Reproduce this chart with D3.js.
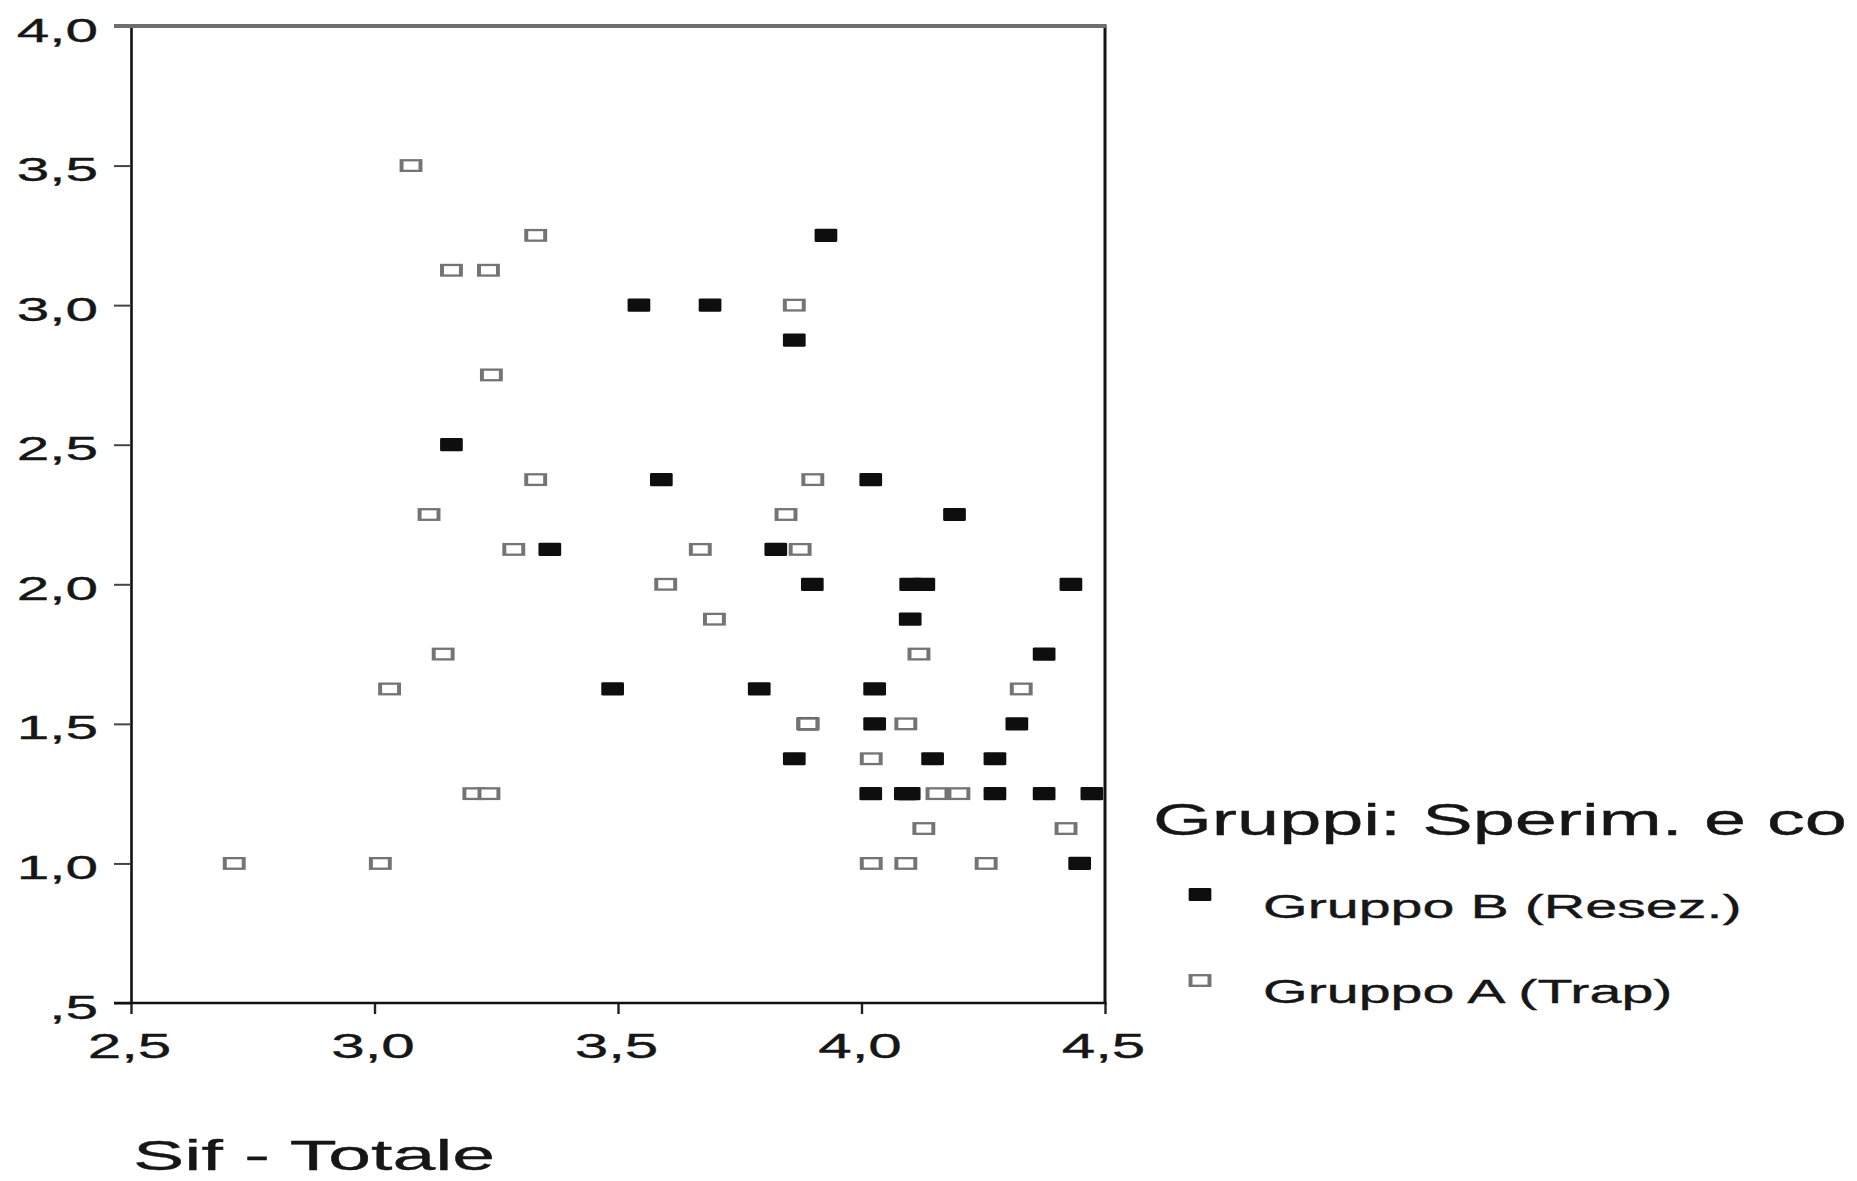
<!DOCTYPE html>
<html>
<head>
<meta charset="utf-8">
<script src="https://cdn.jsdelivr.net/npm/d3@7"></script>
<style>
  body { margin: 0; background: #fff; }
  svg { display: block; }
  text { font-family: "Liberation Sans", Arial, sans-serif; fill: #161616; stroke: #161616; stroke-width: 0.35px; }
</style>
</head>
<body>
<div id="chart"></div>
<script>
// Gruppo A (Trap) - open markers
const groupA_x = [3.075, 3.331, 3.158, 3.234, 3.862, 3.240, 3.331, 3.900, 3.112, 3.845,
                  3.286, 3.669, 3.874, 3.598, 3.698, 3.141, 4.118, 3.031, 4.328, 3.890,
                  4.091, 4.020, 3.204, 3.235, 4.155, 4.200, 4.128, 4.420, 2.712, 3.012,
                  4.020, 4.091, 4.256];
const groupA_y = [3.5, 3.25, 3.125, 3.125, 3.0, 2.75, 2.375, 2.375, 2.25, 2.25,
                  2.125, 2.125, 2.125, 2.0, 1.875, 1.75, 1.75, 1.625, 1.625, 1.5,
                  1.5, 1.375, 1.25, 1.25, 1.25, 1.25, 1.125, 1.125, 1.0, 1.0,
                  1.0, 1.0, 1.0];

// Gruppo B (Resez.) - filled markers
const groupB_x = [3.927, 3.543, 3.689, 3.862, 3.158, 3.589, 4.019, 4.191, 3.360, 3.824,
                  3.899, 4.101, 4.128, 4.430, 4.100, 4.375, 3.489, 3.790, 4.027, 3.890,
                  4.027, 4.319, 3.862, 4.146, 4.274, 4.019, 4.090, 4.098, 4.274, 4.375,
                  4.473, 4.448];
const groupB_y = [3.25, 3.0, 3.0, 2.875, 2.5, 2.375, 2.375, 2.25, 2.125, 2.125,
                  2.0, 2.0, 2.0, 2.0, 1.875, 1.75, 1.625, 1.625, 1.625, 1.5,
                  1.5, 1.5, 1.375, 1.375, 1.375, 1.25, 1.25, 1.25, 1.25, 1.25,
                  1.25, 1.0];

const xTicks = [2.5, 3.0, 3.5, 4.0, 4.5];
const xTickLabels = ["2,5", "3,0", "3,5", "4,0", "4,5"];
const yTicks = [0.5, 1.0, 1.5, 2.0, 2.5, 3.0, 3.5, 4.0];
const yTickLabels = [",5", "1,0", "1,5", "2,0", "2,5", "3,0", "3,5", "4,0"];

const legendLabels = ["Gruppo B (Resez.)", "Gruppo A (Trap)"];
const legendTitle = "Gruppi: Sperim. e co";
const xTitle = "Sif - Totale";

const width = 1857, height = 1181;
const stretch = 1.72; // the original picture is widened horizontally

const svg = d3.select("#chart").append("svg")
  .attr("width", width)
  .attr("height", height);

const x = d3.scaleLinear().domain([2.5, 4.5]).range([131, 1105]);
const y = d3.scaleLinear().domain([0.5, 4.0]).range([1003, 26]);

// y axis
const yAxis = svg.append("g")
  .attr("transform", "translate(" + x(2.5) + ",0)")
  .call(d3.axisLeft(y)
    .tickValues(yTicks)
    .tickSize(17)
    .tickSizeOuter(0)
    .tickFormat((d, i) => yTickLabels[i]));
yAxis.select(".domain").attr("stroke", "#111").attr("stroke-width", 2.6);
yAxis.selectAll(".tick line").attr("stroke", "#444").attr("stroke-width", 2);
yAxis.selectAll(".tick text")
  .attr("x", -33 / stretch)
  .attr("y", 15)
  .attr("dy", 0)
  .attr("text-anchor", "end")
  .attr("transform", "scale(" + stretch + ",1)")
  .style("font-size", "34px");

// x axis
const xAxis = svg.append("g")
  .attr("transform", "translate(0," + y(0.5) + ")")
  .call(d3.axisBottom(x)
    .tickValues(xTicks)
    .tickSize(11)
    .tickSizeOuter(0)
    .tickFormat((d, i) => xTickLabels[i]));
xAxis.select(".domain").remove();
xAxis.selectAll(".tick line").attr("stroke", "#222").attr("stroke-width", 2.4);
xAxis.selectAll(".tick text")
  .attr("x", -2 / stretch)
  .attr("y", 55)
  .attr("dy", 0)
  .attr("text-anchor", "middle")
  .attr("transform", "scale(" + stretch + ",1)")
  .style("font-size", "35px");

// frame: bottom, right (black), top (gray)
svg.append("line")
  .attr("x1", 114).attr("x2", x(4.5) + 1.5)
  .attr("y1", y(0.5)).attr("y2", y(0.5))
  .attr("stroke", "#111").attr("stroke-width", 2.6);
svg.append("line")
  .attr("x1", x(4.5)).attr("x2", x(4.5))
  .attr("y1", y(4.0) - 1).attr("y2", y(0.5) + 1)
  .attr("stroke", "#151515").attr("stroke-width", 3);
svg.append("line")
  .attr("x1", 114).attr("x2", x(4.5) + 1.5)
  .attr("y1", y(4.0)).attr("y2", y(4.0))
  .attr("stroke", "#6e6e6e").attr("stroke-width", 4);

const plot = svg.append("g");

function filledMarker(sel) {
  sel.append("rect")
    .attr("x", -6.6).attr("y", -6.6)
    .attr("width", 13.2).attr("height", 13.2)
    .attr("rx", 1)
    .attr("fill", "#0e0e0e");
}
function openMarker(sel) {
  sel.append("rect")
    .attr("x", -5.5).attr("y", -5.3)
    .attr("width", 11).attr("height", 10.6)
    .attr("fill", "#fff")
    .attr("stroke", "#747474")
    .attr("stroke-width", 2.3);
}

plot.selectAll("g.b")
  .data(groupB_x.map((v, i) => [v, groupB_y[i]]))
  .enter().append("g")
  .attr("class", "b")
  .attr("transform", d => "translate(" + x(d[0]) + "," + y(d[1]) + ") scale(" + stretch + ",1)")
  .call(filledMarker);

plot.selectAll("g.a")
  .data(groupA_x.map((v, i) => [v, groupA_y[i]]))
  .enter().append("g")
  .attr("class", "a")
  .attr("transform", d => "translate(" + x(d[0]) + "," + y(d[1]) + ") scale(" + stretch + ",1)")
  .call(openMarker);

// x axis title
svg.append("text")
  .attr("transform", "translate(133,1170) scale(1.79,1)")
  .style("font-size", "43px")
  .text(xTitle);

// legend
const legend = svg.append("g");
legend.append("text")
  .attr("transform", "translate(1153,835) scale(" + stretch + ",1)")
  .style("font-size", "44px")
  .text(legendTitle);

const legendRows = [{label: legendLabels[0], cy: 894.5, kind: "b", base: 918},
                    {label: legendLabels[1], cy: 980.5, kind: "a", base: 1003}];
legendRows.forEach(r => {
  const m = legend.append("g")
    .attr("transform", "translate(1200," + r.cy + ") scale(" + stretch + ",1)");
  if (r.kind === "b") filledMarker(m); else openMarker(m);
  legend.append("text")
    .attr("transform", "translate(1263," + r.base + ") scale(1.74,1)")
    .style("font-size", "33px")
    .text(r.label);
});
</script>
</body>
</html>
